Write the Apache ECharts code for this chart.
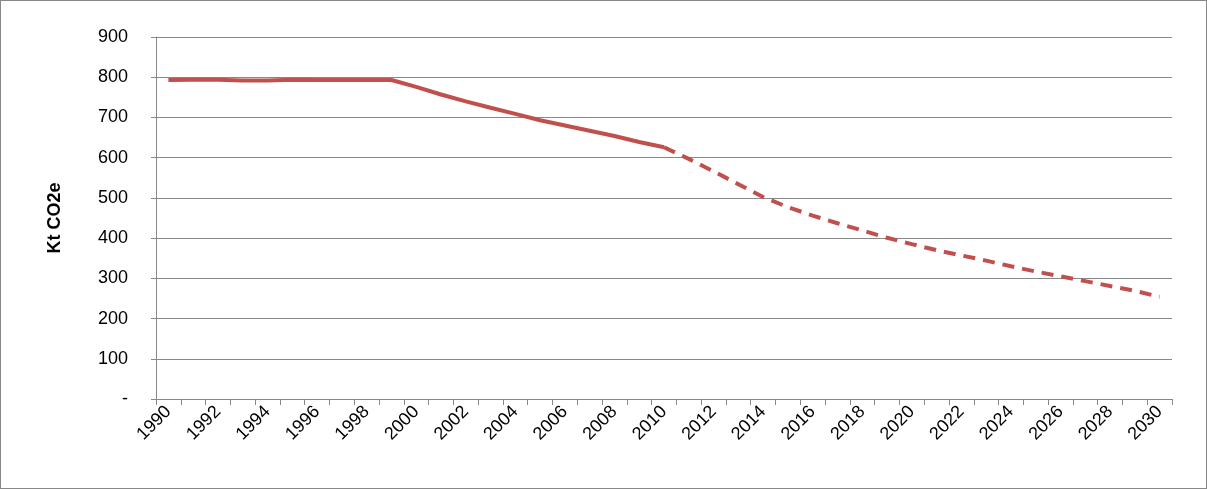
<!DOCTYPE html>
<html><head><meta charset="utf-8">
<script src="https://cdn.jsdelivr.net/npm/echarts@6/dist/echarts.min.js"></script>
<style>html,body{margin:0;padding:0;background:#fff}#c{width:1205px;height:487px;border:1px solid #888}</style>
</head><body><div id="c"></div>
<script>
var years = [];
for (var y = 1990; y <= 2030; y++) years.push(String(y));
var historic = [793,794,794,792,792,794,793,793,793,793,776,757,740,724,709,693,680,667,654,639,626];
var projected = [597,566,534,502,477,456,437,419,401,385,370,357,344,330,317,305,293,281,269,254];

var solid = historic.slice();
var dashed = [];
for (var i = 0; i < years.length; i++) {
  if (i >= historic.length) solid.push(null);
  if (i < historic.length - 1) dashed.push(null);
  else if (i === historic.length - 1) dashed.push(historic[i]);
  else dashed.push(projected[i - historic.length]);
}

var chart = echarts.init(document.getElementById('c'));
chart.setOption({
  animation: false,
  grid: { left: 155, right: 34, top: 36, bottom: 89 },
  xAxis: {
    type: 'category', data: years, boundaryGap: true,
    axisLine: { lineStyle: { color: '#888' } },
    axisTick: { show: true, interval: 0, lineStyle: { color: '#888' }, length: 6 },
    axisLabel: { interval: 1, rotate: 45, color: '#000', fontSize: 18, fontFamily: 'Liberation Sans', margin: 10 }
  },
  yAxis: {
    type: 'value', min: 0, max: 900, interval: 100,
    name: 'Kt CO2e', nameLocation: 'middle', nameGap: 92,
    nameTextStyle: { fontWeight: 'bold', fontSize: 18, color: '#000', fontFamily: 'Liberation Sans' },
    axisLine: { show: true, lineStyle: { color: '#888' } },
    axisTick: { show: true, lineStyle: { color: '#888' } },
    axisLabel: { color: '#000', fontSize: 18, fontFamily: 'Liberation Sans', margin: 28,
      formatter: function (v) { return v === 0 ? '-' : v; } },
    splitLine: { lineStyle: { color: '#888' } }
  },
  series: [
    { type: 'line', data: solid, symbol: 'none', lineStyle: { color: '#c0504d', width: 4 } },
    { type: 'line', data: dashed, symbol: 'none', lineStyle: { color: '#c0504d', width: 4, type: [12, 8] } }
  ]
});
</script></body></html>
